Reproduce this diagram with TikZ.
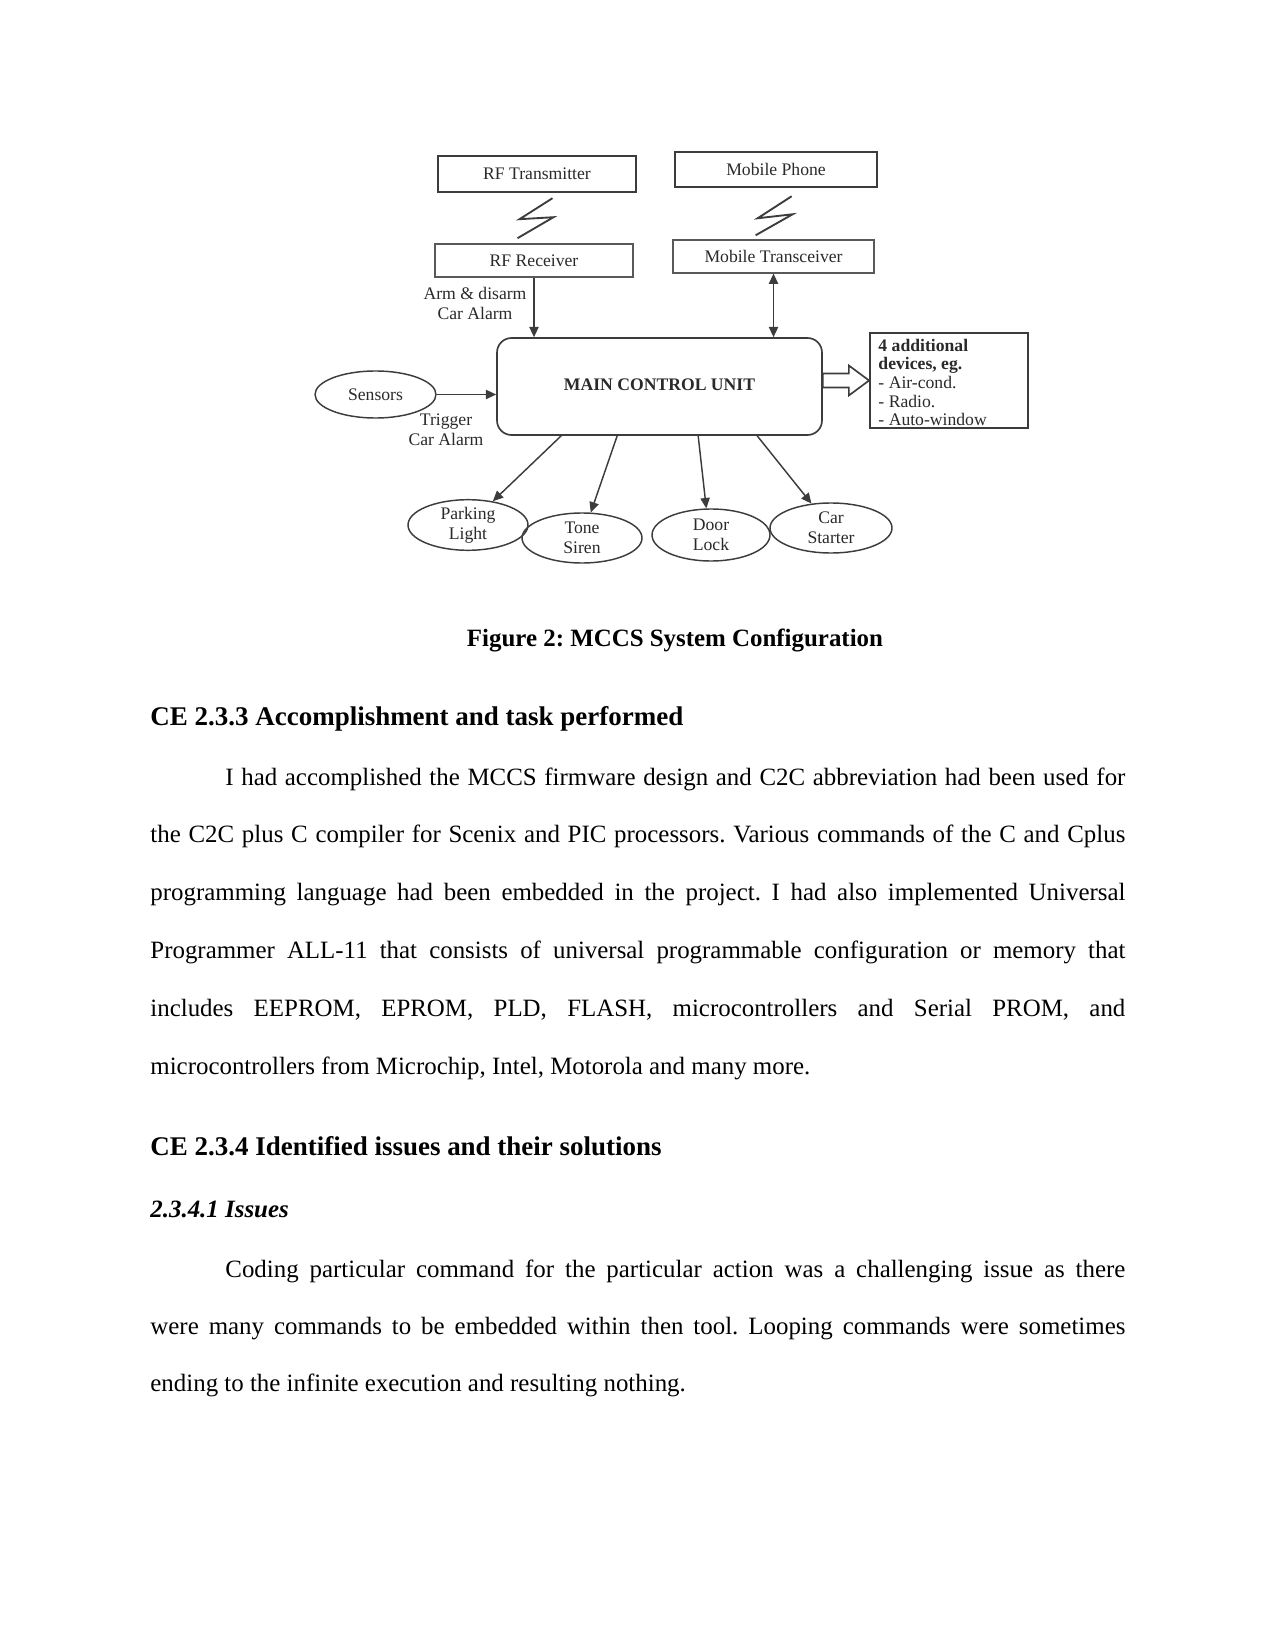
\documentclass[tikz,border=0pt]{standalone}
\usepackage{fontspec}
\setmainfont{Liberation Serif}
\usetikzlibrary{arrows.meta,calc,shapes.geometric}
\newlength\px
\setlength\px{0.4818pt}
\definecolor{dline}{HTML}{3C3C3C}
\definecolor{dtxt}{HTML}{2A2A2A}
\frenchspacing
\begin{document}
\frenchspacing
\begin{tikzpicture}[x=0.4818pt, y=-0.4818pt,
  dfont/.style={font=\fontsize{8.5}{9.5}\selectfont\frenchspacing, text=dtxt},
  boxA/.style={draw=dline, line width=1pt, dfont, inner sep=0pt},
  boxB/.style={draw=dline!85, line width=0.6pt, dfont, inner sep=0pt},
  oval/.style={ellipse, draw=dline, line width=0.7pt, dfont, align=center, inner sep=0pt},
  arr/.style={draw=dline, line width=0.7pt, -{Triangle[length=5pt,width=4.5pt]}},
  darr/.style={draw=dline, line width=0.7pt, {Triangle[length=5pt,width=4.5pt]}-{Triangle[length=5pt,width=4.5pt]}},
  bolt/.style={draw=dline, line width=0.9pt},
  lbl/.style={dfont, align=center, inner sep=0pt},
  body/.style={font=\fontsize{12}{14}\selectfont\frenchspacing, anchor=base west, inner sep=0pt},
  head/.style={font=\fontsize{13}{15}\selectfont\bfseries\frenchspacing, anchor=base west, inner sep=0pt}]
\fill[white] (0,0) rectangle (1275,1650);
\useasboundingbox (0,0) rectangle (1275,1650);

% ---------- diagram ----------
\node[boxA, minimum width=198\px, minimum height=36\px] (rft) at (537,174) {RF Transmitter};
\node[boxA, minimum width=202\px, minimum height=35\px] (mp) at (776,169.5) {Mobile Phone};
\node[boxB, minimum width=198\px, minimum height=33\px] (rfr) at (534,260.5) {RF Receiver};
\node[boxB, minimum width=201\px, minimum height=33\px] (mt) at (773.5,256.5) {Mobile Transceiver};

\coordinate (b1) at ($(rft.south)!0.5!(rfr.north)$);
\coordinate (b2) at ($(mp.south)!0.55!(mt.north)$);
\draw[bolt] (b1) ++(17,-20) -- ++(-33,21) -- ++(34,-2) -- ++(-36,21);
\draw[bolt] (b2) ++(17,-20) -- ++(-34,22) -- ++(35,-4) -- ++(-37,21);

\node[draw=dline, line width=0.8pt, rounded corners=7pt, minimum width=325\px, minimum height=97\px,
      font=\fontsize{8.5}{9.5}\selectfont\bfseries, text=dtxt, inner sep=0pt] (mcu) at (659.5,386.5)
      {\raisebox{2.2pt}{MAIN CONTROL UNIT}};

\node[draw=dline, line width=0.9pt, minimum width=158\px, minimum height=95\px, inner sep=0pt] (add) at (949,380.5) {};
\node[font=\fontsize{8.5}{9}\selectfont, text=dtxt, anchor=west, align=left, inner sep=0pt] (addt) at ($(add.west)+(9,2)$)
  {\textbf{4 additional}\\\textbf{devices, eg.}\\- Air-cond.\\- Radio.\\- Auto-window};

\node[oval, minimum width=121\px, minimum height=47\px] (sens) at (375.5,394.5) {Sensors};

\node[oval, minimum width=120\px, minimum height=50\px] (pl) at (468,525) {Parking\\Light};
\node[oval, minimum width=120\px, minimum height=50\px] (ts) at (582,538) {Tone\\Siren};
\node[oval, minimum width=118\px, minimum height=52\px] (dl) at (711,535) {Door\\Lock};
\node[oval, minimum width=122\px, minimum height=50\px] (cs) at (831,528) {Car\\Starter};

\node[lbl] (arm) at (475,303.5) {Arm \& disarm\\Car Alarm};
\node[lbl] (trig) at (446,430) {Trigger\\Car Alarm};

\draw[arr] (rfr.south) -- (rfr.south |- mcu.north);
\draw[darr] (mt.south) -- (mt.south |- mcu.north);
\draw[arr] (sens.east) -- (sens.east -| mcu.west);

\coordinate (s1) at ($(mcu.south west)+(65,0)$);
\coordinate (s2) at ($(mcu.south west)+(121,0)$);
\coordinate (s3) at ($(mcu.south west)+(202,0)$);
\coordinate (s4) at ($(mcu.south west)+(261,0)$);
\draw[arr] (s1) -- (pl);
\draw[arr] (s2) -- (ts);
\draw[arr] (s3) -- (dl.100);
\draw[arr] (s4) -- (cs);

\coordinate (ha) at (mcu.east |- add.west);
\draw[draw=dline, line width=0.8pt, fill=white, line join=miter]
  ($(ha)+(0,-7)$) -- ($(ha)+(26,-7)$) -- ($(ha)+(26,-15)$) -- (add.west)
  -- ($(ha)+(26,15)$) -- ($(ha)+(26,7)$) -- ($(ha)+(0,7)$) -- cycle;

% ---------- caption and text ----------
\node[font=\fontsize{12}{14}\selectfont\bfseries\frenchspacing, anchor=base, inner sep=0pt] (cap) at (675,646)
  {Figure 2: MCCS System Configuration};

\node[head] (h1) at (150,725) {CE 2.3.3 Accomplishment and task performed};

\node[body] (p1a) at (225,785) {\makebox[900\px][s]{I had accomplished the MCCS firmware design and C2C abbreviation had been used for}};
\node[body] (p1b) at (150,842.8) {\makebox[975\px][s]{the C2C plus C compiler for Scenix and PIC processors. Various commands of the C and Cplus}};
\node[body] (p1c) at (150,900.6) {\makebox[975\px][s]{programming language had been embedded in the project. I had also implemented Universal}};
\node[body] (p1d) at (150,958.4) {\makebox[975\px][s]{Programmer ALL-11 that consists of universal programmable configuration or memory that}};
\node[body] (p1e) at (150,1016.2) {\makebox[975\px][s]{includes EEPROM, EPROM, PLD, FLASH, microcontrollers and Serial PROM, and}};
\node[body] (p1f) at (150,1074) {microcontrollers from Microchip, Intel, Motorola and many more.};

\node[head] (h2) at (150,1155) {CE 2.3.4 Identified issues and their solutions};
\node[body, font=\fontsize{12}{14}\selectfont\bfseries\itshape] (h3) at (150,1217) {2.3.4.1 Issues};

\node[body] (p2a) at (225,1277) {\makebox[900\px][s]{Coding particular command for the particular action was a challenging issue as there}};
\node[body] (p2b) at (150,1334) {\makebox[975\px][s]{were many commands to be embedded within then tool. Looping commands were sometimes}};
\node[body] (p2c) at (150,1391) {ending to the infinite execution and resulting nothing.};
\end{tikzpicture}
\end{document}
